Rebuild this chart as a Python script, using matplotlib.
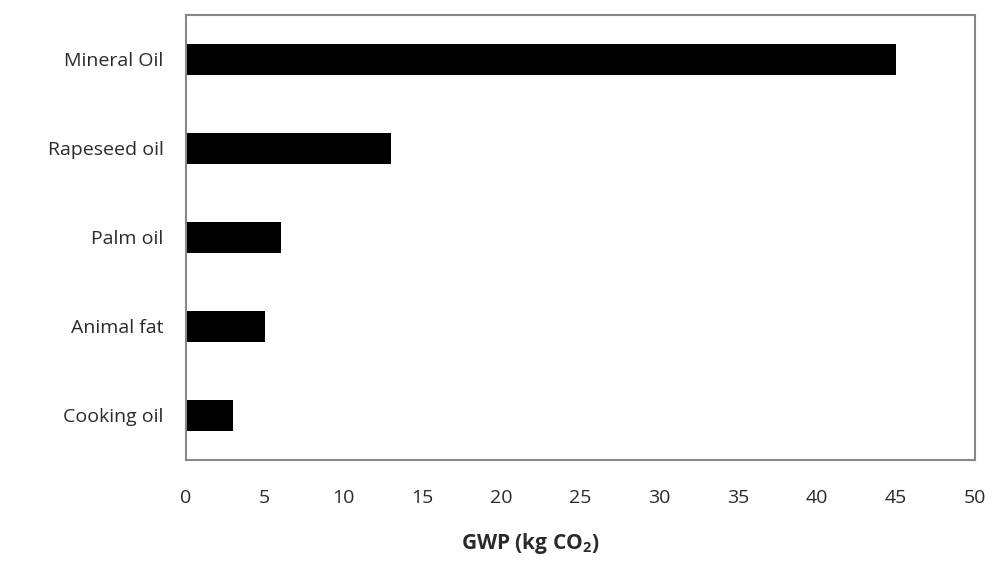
import matplotlib.pyplot as plt

plt.rcParams['font.family'] = ['Open Sans', 'DejaVu Sans']
plt.rcParams['mathtext.fontset'] = 'custom'
plt.rcParams['mathtext.bf'] = 'Open Sans:bold'
plt.rcParams['mathtext.rm'] = 'Open Sans'

# 数据
oils = ["Cooking oil", "Animal fat", "Palm oil", "Rapeseed oil", "Mineral Oil"]
gwp = [3, 5, 6, 13, 45]
x_ticks = [0, 5, 10, 15, 20, 25, 30, 35, 40, 45, 50]

fig = plt.figure(figsize=(9.99, 5.7), dpi=100)
ax = fig.add_axes([0.186, 0.193, 0.790, 0.781])

ax.barh(oils, gwp, height=0.35, color="black")

ax.set_xlim(0, 50)
ax.set_ylim(-0.5, len(oils) - 0.5)
ax.set_xticks(x_ticks)
ax.tick_params(axis="x", length=0, pad=21, labelsize=14, colors="#2a2a2a")
ax.tick_params(axis="y", length=0, pad=16, labelsize=14, colors="#2a2a2a")

for s in ax.spines.values():
    s.set_color("#888")
    s.set_linewidth(1.5)

ax.set_xlabel("GWP (kg CO$_\\mathbf{2}$)", fontsize=15, fontweight="bold", color="#2a2a2a")
ax.xaxis.set_label_coords(0.436, -0.16)

fig.savefig("out.png", dpi=100)
